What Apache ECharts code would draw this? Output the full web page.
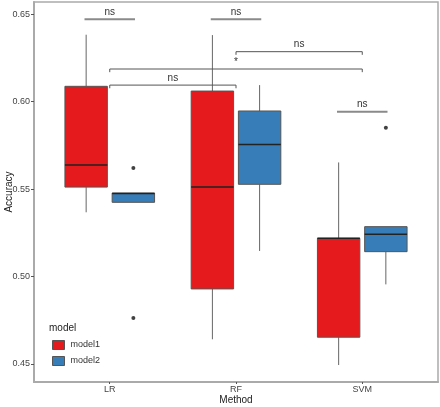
<!DOCTYPE html>
<html>
<head>
<meta charset="utf-8">
<script src="https://cdn.jsdelivr.net/npm/echarts@6/dist/echarts.min.js"></script>
<style>html,body{margin:0;padding:0;background:#fff}#c{width:440px;height:407px}</style>
</head>
<body>
<div id="c"></div>
<script>
// ---- data ----
var categories = ['LR', 'RF', 'SVM'];
var seriesNames = ['model1', 'model2'];
// [min, q1, median, q3, max] per category
var model1Stats = [
  [0.5367, 0.5511, 0.5637, 0.6087, 0.6382],
  [0.4641, 0.4929, 0.5511, 0.6060, 0.6380],
  [0.4494, 0.4653, 0.5218, 0.5218, 0.5652]
];
var model2Stats = [
  [0.5424, 0.5424, 0.5475, 0.5477, 0.5477],
  [0.5146, 0.5527, 0.5755, 0.5946, 0.6094],
  [0.4955, 0.5142, 0.5241, 0.5285, 0.5285]
];
// outliers: [categoryIndex, value]
var model1Outliers = [];
var model2Outliers = [[0, 0.562], [0, 0.4763], [2, 0.585]];
// significance within a category (model1 vs model2)
var pairBrackets = [
  {cat: 'LR', y: 0.6471, label: 'ns'},
  {cat: 'RF', y: 0.6471, label: 'ns'},
  {cat: 'SVM', y: 0.5942, label: 'ns'}
];
// significance between categories
var crossBrackets = [
  {from: 'LR', to: 'RF', y: 0.6094, label: 'ns'},
  {from: 'LR', to: 'SVM', y: 0.6186, label: '*'},
  {from: 'RF', to: 'SVM', y: 0.6285, label: 'ns'}
];
var yTicks = [0.45, 0.50, 0.55, 0.60, 0.65];

// ---- layout/style constants ----
var DODGE = 0.187, HALF = 0.168, TIP = 0.0018;
var colors = ['#E41A1C', '#377EB8'];
var FONT = 'Liberation Sans, Arial, sans-serif';

function boxRender(offset) {
  return function (params, api) {
    var c = api.value(0) + 1 + offset;
    var vals = [api.value(1), api.value(2), api.value(3), api.value(4), api.value(5)];
    var xl = api.coord([c - HALF, vals[1]])[0];
    var xr = api.coord([c + HALF, vals[1]])[0];
    var xc = api.coord([c, vals[1]])[0];
    var y = vals.map(function (v) { return api.coord([c, v])[1]; });
    var col = api.visual('color');
    return {
      type: 'group',
      children: [
        {type: 'line', shape: {x1: xc, y1: y[4], x2: xc, y2: y[3]}, style: {stroke: '#666', lineWidth: 1}},
        {type: 'line', shape: {x1: xc, y1: y[1], x2: xc, y2: y[0]}, style: {stroke: '#666', lineWidth: 1}},
        {type: 'rect', shape: {x: xl, y: y[3], width: xr - xl, height: Math.max(y[1] - y[3], 0.5)},
          style: {fill: col, stroke: '#555', lineWidth: 1}},
        {type: 'line', shape: {x1: xl, y1: y[2], x2: xr, y2: y[2]}, style: {stroke: '#222', lineWidth: 1.5}}
      ]
    };
  };
}

function bracketRender(params, api) {
  var x1 = api.value(0), x2 = api.value(1), yv = api.value(2), tip = api.value(3);
  var lw = api.value(4);
  var p1 = api.coord([x1, yv - tip]);
  var p2 = api.coord([x1, yv]);
  var p3 = api.coord([x2, yv]);
  var p4 = api.coord([x2, yv - tip]);
  var mid = api.coord([(x1 + x2) / 2, yv]);
  var d = bracketData[params.dataIndex];
  return {
    type: 'group',
    children: [
      {type: 'polyline', shape: {points: [p1, p2, p3, p4]},
        style: {stroke: lw > 1 ? '#8a8a8a' : '#555', lineWidth: lw, fill: null}},
      {type: 'text', style: {text: d.name, x: mid[0], y: mid[1] - 2, textAlign: 'center',
        textVerticalAlign: 'bottom', fontSize: 10, fontFamily: FONT, fill: '#333'}}
    ]
  };
}

var bracketData = [];
pairBrackets.forEach(function (b) {
  var c = categories.indexOf(b.cat) + 1;
  bracketData.push({name: b.label, value: [c - 0.2, c + 0.2, b.y, 0, 2]});
});
crossBrackets.forEach(function (b) {
  bracketData.push({name: b.label,
    value: [categories.indexOf(b.from) + 1, categories.indexOf(b.to) + 1, b.y, TIP, 1]});
});

function toBoxData(stats) {
  return stats.map(function (s, i) { return [i].concat(s); });
}
function toOutlierData(arr, offset) {
  return arr.map(function (o) { return [o[0] + 1 + offset, o[1]]; });
}

var chart = echarts.init(document.getElementById('c'));
chart.setOption({
  animation: false,
  backgroundColor: '#fff',
  textStyle: {fontFamily: FONT},
  title: {text: 'model', left: 49, top: 323, padding: 0, textStyle: {fontSize: 10, fontWeight: 'normal', color: '#222', fontFamily: FONT}},
  legend: {
    orient: 'vertical', left: 52, top: 340, itemWidth: 12, itemHeight: 9, itemGap: 6, padding: 0,
    data: seriesNames.map(function (n, i) {
      return {name: n, icon: 'rect', itemStyle: {color: colors[i], borderColor: '#555', borderWidth: 1}};
    }),
    textStyle: {fontSize: 9, color: '#333', fontFamily: FONT, padding: [0, 0, 0, 1]}
  },
  grid: {left: 34, top: 2, width: 404, height: 380, outerBoundsMode: 'none', containLabel: false,
    show: true, borderColor: '#aaa', borderWidth: 1.5, backgroundColor: '#fff'},
  xAxis: {
    type: 'value', min: 0.4, max: 3.6,
    name: 'Method', nameLocation: 'middle', nameGap: 13, nameMoveOverlap: false,
    nameTextStyle: {fontSize: 10, color: '#222', fontFamily: FONT},
    splitLine: {show: false},
    axisLine: {show: true, lineStyle: {color: '#aaa', width: 2}},
    axisTick: {show: true, length: 2, lineStyle: {color: '#555'}, customValues: [1, 2, 3]},
    axisLabel: {fontSize: 9, color: '#444', margin: 3, customValues: [1, 2, 3],
      formatter: function (v) { return categories[Math.round(v) - 1]; }}
  },
  yAxis: {
    type: 'value', min: 0.4397, max: 0.6569,
    name: 'Accuracy', nameLocation: 'middle', nameGap: 20, nameMoveOverlap: false,
    nameTextStyle: {fontSize: 10, color: '#222', fontFamily: FONT},
    splitLine: {show: false},
    axisLine: {show: true, lineStyle: {color: '#aaa', width: 2}},
    axisTick: {show: true, length: 3, lineStyle: {color: '#555'}, customValues: yTicks},
    axisLabel: {fontSize: 9, color: '#444', margin: 4, customValues: yTicks,
      formatter: function (v) { return v.toFixed(2); }}
  },
  series: [
    {name: 'model1', type: 'custom', renderItem: boxRender(-DODGE), data: toBoxData(model1Stats),
      itemStyle: {color: colors[0]}, encode: {x: 0, y: [1, 2, 3, 4, 5]}, z: 2},
    {name: 'model2', type: 'custom', renderItem: boxRender(DODGE), data: toBoxData(model2Stats),
      itemStyle: {color: colors[1]}, encode: {x: 0, y: [1, 2, 3, 4, 5]}, z: 2},
    {name: 'model1', type: 'scatter', data: toOutlierData(model1Outliers, -DODGE), symbolSize: 4,
      itemStyle: {color: '#111'}, z: 3},
    {name: 'model2', type: 'scatter', data: toOutlierData(model2Outliers, DODGE), symbolSize: 4,
      itemStyle: {color: '#111'}, z: 3},
    {name: 'brackets', type: 'custom', renderItem: bracketRender, data: bracketData,
      encode: {x: [0, 1], y: 2}, z: 4, silent: true}
  ]
});
</script>
</body>
</html>
